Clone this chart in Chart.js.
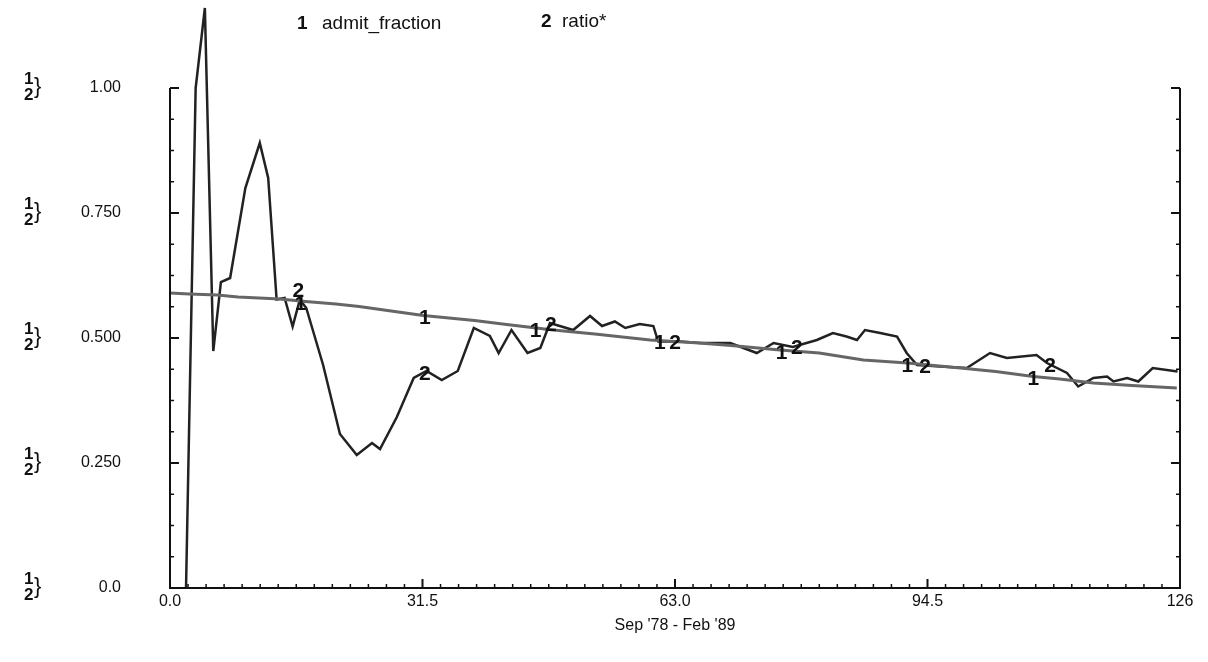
<!DOCTYPE html>
<html>
<head>
<meta charset="utf-8">
<script src="https://cdn.jsdelivr.net/npm/chart.js@4/dist/chart.umd.min.js"></script>
<style>
  html, body { margin: 0; padding: 0; background: #fff; }
  #wrap { width: 1208px; height: 662px; }
</style>
</head>
<body>
<div id="wrap"><canvas id="chart1" width="1208" height="662"></canvas></div>
<script>
// Series 1: admit_fraction (x = month index, y = value)
const admitX = [0, 2.4, 5.9, 8.5, 11.1, 13.7, 16.9, 20.7, 23.6, 26.7, 31.6, 38, 42, 47.8, 53, 59.9, 66, 70, 76.1, 81, 86.5, 92, 98.6, 103, 107.7, 111, 115.2, 120, 125.6];
const admitY = [0.59, 0.588, 0.586, 0.582, 0.58, 0.578, 0.573, 0.568, 0.563, 0.556, 0.545, 0.535, 0.527, 0.516, 0.508, 0.496, 0.49, 0.485, 0.476, 0.47, 0.456, 0.45, 0.44, 0.433, 0.423, 0.418, 0.41, 0.405, 0.40];

// Series 2: ratio*
const ratioX = [2.0, 3.2, 4.35, 5.4, 6.35, 7.5, 9.4, 11.2, 12.25, 13.3, 14.3, 15.3, 16.2, 17.0, 19.1, 21.2, 23.3, 25.2, 26.2, 28.3, 30.4, 32.0, 33.9, 35.9, 37.9, 39.9, 41.0, 42.6, 44.6, 46.2, 47.4, 50.3, 52.4, 53.9, 55.5, 56.8, 58.6, 60.3, 60.9, 63.6, 66.1, 69.9, 73.2, 75.3, 77.7, 80.7, 82.7, 84.4, 85.7, 86.7, 88.6, 90.7, 91.9, 93.2, 96.1, 99.4, 102.3, 104.4, 108.1, 109.4, 111.9, 113.3, 115.2, 116.9, 117.7, 119.4, 120.8, 122.6, 125.7];
const ratioY = [0, 1.0, 1.16, 0.474, 0.612, 0.62, 0.80, 0.89, 0.82, 0.577, 0.58, 0.523, 0.577, 0.56, 0.446, 0.308, 0.266, 0.29, 0.278, 0.342, 0.42, 0.434, 0.416, 0.434, 0.52, 0.504, 0.47, 0.516, 0.47, 0.48, 0.53, 0.516, 0.544, 0.524, 0.533, 0.52, 0.528, 0.524, 0.493, 0.493, 0.49, 0.49, 0.47, 0.49, 0.482, 0.496, 0.51, 0.503, 0.496, 0.516, 0.51, 0.503, 0.47, 0.446, 0.443, 0.44, 0.47, 0.46, 0.466, 0.45, 0.43, 0.403, 0.42, 0.423, 0.413, 0.42, 0.413, 0.44, 0.433];

// Series markers along the curves
const marker1X = [16.3, 31.8, 45.6, 61.1, 76.3, 92.0, 107.7];
const marker2X = [16.0, 31.8, 47.5, 63.0, 78.2, 94.2, 109.8];

// Axis ticks
const xMajor = [0, 31.5, 63, 94.5, 126];
const xMajorLabels = ['0.0', '31.5', '63.0', '94.5', '126'];
const xMinorStep = 2.25;
const yMajor = [0, 0.25, 0.5, 0.75, 1.0];
const yMajorLabels = ['0.0', '0.250', '0.500', '0.750', '1.00'];
const yMinorStep = 0.0625;

const legendNames = ['admit_fraction', 'ratio*'];
const xTitle = "Sep '78 - Feb '89";

const FONT = '"Liberation Sans", Arial, sans-serif';

function pts(xs, ys) {
  return xs.map((x, i) => ({ x: x, y: ys[i] }));
}

function interp(xs, ys, x) {
  for (let i = 0; i < xs.length - 1; i++) {
    if (x >= xs[i] && x <= xs[i + 1]) {
      const t = (x - xs[i]) / (xs[i + 1] - xs[i]);
      return ys[i] + t * (ys[i + 1] - ys[i]);
    }
  }
  return ys[ys.length - 1];
}

// Draw the axis ticks, labels, markers and legend by hand
const decorPlugin = {
  id: 'decor',
  afterDraw(chart) {
    const ctx = chart.ctx;
    const xs = chart.scales.x;
    const ys = chart.scales.y;
    const a = chart.chartArea;
    ctx.save();
    ctx.strokeStyle = '#111';
    ctx.fillStyle = '#111';

    // axis frame: left, bottom, right
    ctx.lineWidth = 2;
    ctx.beginPath();
    ctx.moveTo(a.left, a.top); ctx.lineTo(a.left, a.bottom); ctx.lineTo(a.right, a.bottom); ctx.lineTo(a.right, a.top);
    ctx.stroke();

    // y ticks (inward on both sides)
    for (let v = 0; v <= 1.0001; v += yMinorStep) {
      const py = ys.getPixelForValue(v);
      const major = yMajor.some(m => Math.abs(m - v) < 1e-6);
      const len = major ? 9 : 4;
      ctx.lineWidth = major ? 2 : 1.5;
      ctx.beginPath();
      ctx.moveTo(a.left, py); ctx.lineTo(a.left + len, py);
      ctx.moveTo(a.right, py); ctx.lineTo(a.right - len, py);
      ctx.stroke();
    }
    // x ticks (inward)
    for (let v = 0; v <= 126.001; v += xMinorStep) {
      const px = xs.getPixelForValue(v);
      const major = xMajor.some(m => Math.abs(m - v) < 1e-6);
      ctx.lineWidth = major ? 2 : 1.5;
      ctx.beginPath();
      ctx.moveTo(px, a.bottom); ctx.lineTo(px, a.bottom - (major ? 9 : 4));
      ctx.stroke();
    }

    // tick labels
    ctx.font = '16px ' + FONT;
    ctx.textAlign = 'right';
    ctx.textBaseline = 'middle';
    yMajor.forEach((v, i) => {
      const py = ys.getPixelForValue(v);
      ctx.fillText(yMajorLabels[i], 121, py);
      // the stacked 1/2 marks
      ctx.font = 'bold 17px ' + FONT;
      ctx.textAlign = 'left';
      ctx.fillText('1', 24, py - 9);
      ctx.fillText('2', 24, py + 7);
      ctx.font = '22px ' + FONT;
      ctx.fillText('}', 34, py - 1);
      ctx.font = '16px ' + FONT;
      ctx.textAlign = 'right';
    });
    ctx.textAlign = 'center';
    ctx.textBaseline = 'top';
    xMajor.forEach((v, i) => {
      ctx.fillText(xMajorLabels[i], xs.getPixelForValue(v), a.bottom + 6);
    });
    ctx.fillText(xTitle, (a.left + a.right) / 2, a.bottom + 30);

    // series markers (the first "2" sits above the crossing)
    ctx.font = 'bold 21px ' + FONT;
    ctx.textBaseline = 'middle';
    marker1X.forEach(v => {
      ctx.fillText('1', xs.getPixelForValue(v), ys.getPixelForValue(interp(admitX, admitY, v)) + 3);
    });
    marker2X.forEach((v, i) => {
      const lift = i === 0 ? -14 : 2;
      ctx.fillText('2', xs.getPixelForValue(v), ys.getPixelForValue(interp(ratioX, ratioY, v)) + lift);
    });

    // legend
    ctx.textAlign = 'left';
    ctx.font = 'bold 19px ' + FONT;
    ctx.fillText('1', 297, 24);
    ctx.fillText('2', 541, 22);
    ctx.font = '19px ' + FONT;
    ctx.fillText(legendNames[0], 322, 24);
    ctx.fillText(legendNames[1], 562, 22);
    ctx.restore();
  }
};

const ctx = document.getElementById('chart1').getContext('2d');
const chart1 = new Chart(ctx, {
  type: 'scatter',
  data: {
    datasets: [
      {
        label: legendNames[0],
        data: pts(admitX, admitY),
        showLine: true,
        borderColor: '#666',
        borderWidth: 3,
        pointRadius: 0,
        clip: false,
      },
      {
        label: legendNames[1],
        data: pts(ratioX, ratioY),
        showLine: true,
        borderColor: '#222',
        borderWidth: 2.5,
        pointRadius: 0,
        clip: false,
      },
    ],
  },
  options: {
    responsive: false,
    animation: false,
    layout: { padding: { left: 0, top: 88, right: 28, bottom: 0 } },
    scales: {
      x: {
        type: 'linear',
        min: 0,
        max: 126,
        grid: { display: false },
        border: { display: false },
        ticks: { display: false },
        afterFit: s => { s.height = 74; },
      },
      y: {
        type: 'linear',
        min: 0,
        max: 1,
        grid: { display: false },
        border: { display: false },
        ticks: { display: false },
        afterFit: s => { s.width = 170; },
      },
    },
    plugins: {
      legend: { display: false },
      tooltip: { enabled: false },
    },
  },
  plugins: [decorPlugin],
});
</script>
</body>
</html>
